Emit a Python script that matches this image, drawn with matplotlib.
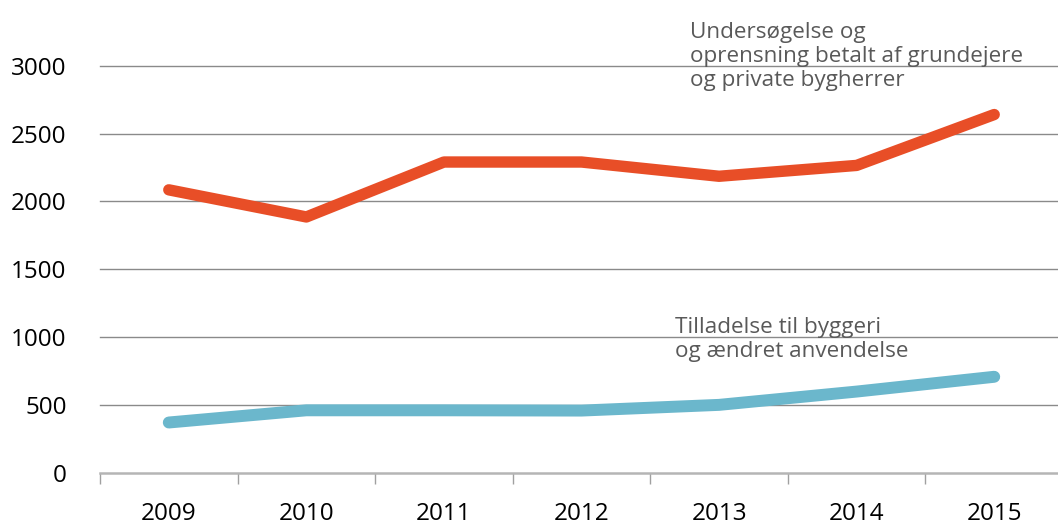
import matplotlib
matplotlib.use("Agg")
import matplotlib.pyplot as plt
import numpy as np

years = ["2009", "2010", "2011", "2012", "2013", "2014", "2015"]
privat = [2085, 1885, 2290, 2290, 2185, 2265, 2640]
tilladelse = [370, 460, 460, 458, 500, 598, 707]
yticks = [0, 500, 1000, 1500, 2000, 2500, 3000]

plt.rcParams['font.family'] = ['Open Sans', 'DejaVu Sans']

W, H = 1058, 526
fig = plt.figure(figsize=(W / 100, H / 100), dpi=100)
left, right = 100, 1063
top, bottom = 65.7, 472.7
ax = fig.add_axes([left / W, (H - bottom) / H, (right - left) / W, (bottom - top) / H])

x = np.arange(len(years))
ax.plot(x, privat, color='#E84E27', lw=8.2, solid_capstyle='round', solid_joinstyle='round', clip_on=False, zorder=3)
ax.plot(x, tilladelse, color='#6BB7CC', lw=8.6, solid_capstyle='round', solid_joinstyle='round', clip_on=False, zorder=3)

ax.set_xlim(-0.5, 6.5)
ax.set_ylim(0, 3000)
ax.set_yticks(yticks)
ax.set_yticklabels([str(v) for v in yticks], fontsize=17.5, color='black')
for v in yticks[1:]:
    ax.axhline(v, color='#8a8a8a', lw=1.0, zorder=1, clip_on=False)

ax.set_xticks(x)
ax.set_xticklabels(years, fontsize=17.5, color='black')
ax.set_xticks(np.arange(-0.5, 6.0, 1.0), minor=True)
ax.tick_params(axis='x', which='major', length=0, pad=21)
ax.tick_params(axis='x', which='minor', length=8, width=1, color='#a0a0a0', direction='out')
ax.tick_params(axis='y', length=0, pad=24)

for s in ['top', 'right', 'left']:
    ax.spines[s].set_visible(False)
ax.spines['bottom'].set_color('#b5b5b5')
ax.spines['bottom'].set_linewidth(1.8)

def px_to_data(px, py):
    dx = (px - left) / (right - left) * 7.0 - 0.5
    dy = (bottom - py) / (bottom - top) * 3000
    return dx, dy

tx, ty = px_to_data(690, 86)
ax.text(tx, ty,
        "Undersøgelse og\noprensning betalt af grundejere\nog private bygherrer",
        fontsize=16.2, color='#595959', ha='left', va='baseline', linespacing=1.2)
tx, ty = px_to_data(675, 357)
ax.text(tx, ty,
        "Tilladelse til byggeri\nog ændret anvendelse",
        fontsize=16.2, color='#595959', ha='left', va='baseline', linespacing=1.2)

fig.savefig("out.png", dpi=100)
